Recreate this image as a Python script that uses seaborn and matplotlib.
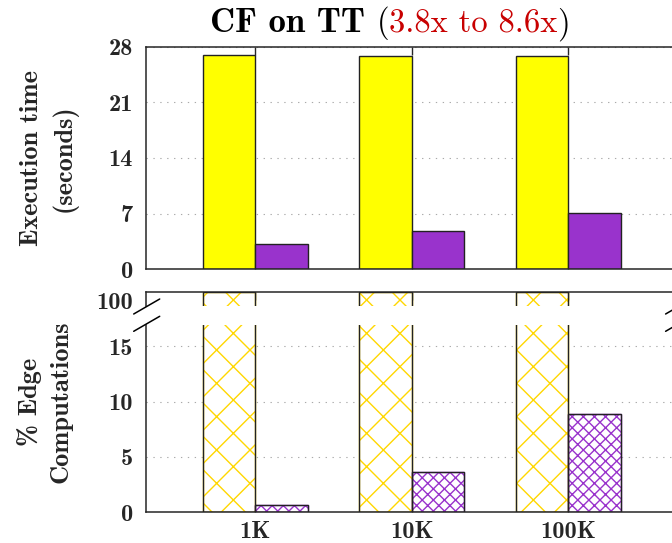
import numpy as np
import pandas as pd
import matplotlib
matplotlib.use("Agg")
import matplotlib.pyplot as plt
from matplotlib.patches import Rectangle
from matplotlib.lines import Line2D
from matplotlib.offsetbox import TextArea, HPacker, AnchoredOffsetbox
import seaborn as sns

# ---- data ----
sizes = ["1K", "10K", "100K"]
systems = ["Baseline", "Optimized"]
baseline_time = [27.0, 26.9, 26.9]
optimized_time = [3.15, 4.83, 7.1]
baseline_edges = [100, 100, 100]
optimized_edges = [0.65, 3.64, 8.86]
time_ticks = [0, 7, 14, 21, 28]
edge_ticks = [0, 5, 10, 15]
edge_top_tick = [100]
title_main = "CF on TT"
title_range = "3.8x to 8.6x"

df = pd.DataFrame({
    "size": sizes * 2,
    "system": [systems[0]] * len(sizes) + [systems[1]] * len(sizes),
    "time": baseline_time + optimized_time,
    "edges": baseline_edges + optimized_edges,
})

# ---- style ----
sns.set_style("white")
plt.rcParams["font.family"] = ["cmb10", "DejaVu Serif"]
plt.rcParams["hatch.linewidth"] = 1.0
plt.rcParams["axes.linewidth"] = 1.1

YELLOW = "#ffff00"
PURPLE = "#9933cc"
HATCH_YELLOW = "#ffd700"
HATCH_PURPLE = "#9933cc"
OUTLINE = "#222222"
TICK_SIZE = 17.5
LABEL_SIZE = 19

W, H = 672, 543
fig = plt.figure(figsize=(W / 100, H / 100), dpi=100)


def axes_px(left, top, right, bottom):
    return fig.add_axes([left / W, 1 - bottom / H, (right - left) / W, (bottom - top) / H])


X_LEFT, X_RIGHT = 145.7, 677.6
ax_t = axes_px(X_LEFT, 47, X_RIGHT, 269)
ax_h = axes_px(X_LEFT, 291.7, X_RIGHT, 306)
ax_l = axes_px(X_LEFT, 325, X_RIGHT, 512.3)

grid_kw = dict(linestyle=(0, (1.2, 5)), color="#aaaaaa", linewidth=0.8)
XLIM = (-0.70, 2.70)
BAR_W = 0.672

# ---- execution time panel ----
sns.barplot(data=df, x="size", y="time", hue="system", palette=[YELLOW, PURPLE],
            width=BAR_W, saturation=1, edgecolor=OUTLINE, linewidth=1.0,
            errorbar=None, legend=False, ax=ax_t)
ax_t.set_xlim(*XLIM)
ax_t.set_ylim(0, 28)
ax_t.set_yticks(time_ticks)
ax_t.yaxis.grid(True, **grid_kw)
ax_t.set_axisbelow(True)
ax_t.set_xlabel("")
ax_t.set_ylabel("")
ax_t.tick_params(axis="y", direction="in", length=7, width=1, labelsize=TICK_SIZE, pad=9)
ax_t.tick_params(axis="x", direction="in", length=6, width=1, top=True, bottom=True,
                 labelbottom=False)

# ---- edge computation panels (broken axis) ----
for ax in (ax_h, ax_l):
    sns.barplot(data=df, x="size", y="edges", hue="system", palette=["white", "white"],
                width=BAR_W, saturation=1, linewidth=1.0, errorbar=None,
                legend=False, ax=ax)
    for cont, hatch, hcol in zip(ax.containers, ["x", "xxx"], [HATCH_YELLOW, HATCH_PURPLE]):
        for p in cont.patches:
            p.set_hatch(hatch)
            p.set_edgecolor(hcol)
            p.set_facecolor("white")
            ax.add_patch(Rectangle(p.get_xy(), p.get_width(), p.get_height(), fill=False,
                                   edgecolor=OUTLINE, linewidth=1.0, zorder=p.get_zorder() + 0.1))
    ax.set_xlim(*XLIM)
    ax.set_xlabel("")
    ax.set_ylabel("")

ax_h.set_ylim(96, 100)
ax_h.set_yticks(edge_top_tick, labels=[str(v) for v in edge_top_tick], va="top")
ax_h.spines["bottom"].set_visible(False)
ax_h.tick_params(axis="y", direction="in", length=0, labelsize=TICK_SIZE, pad=9)
ax_h.tick_params(axis="x", direction="in", length=6, width=1, top=True, bottom=False,
                 labelbottom=False)

ax_l.set_ylim(0, 16.93)
ax_l.set_yticks(edge_ticks)
ax_l.yaxis.grid(True, **grid_kw)
ax_l.set_axisbelow(True)
ax_l.spines["top"].set_visible(False)
ax_l.tick_params(axis="y", direction="in", length=7, width=1, labelsize=TICK_SIZE, pad=9)
ax_l.tick_params(axis="x", direction="in", length=6, width=1, top=False, bottom=True,
                 labelsize=TICK_SIZE, pad=6)

# break marks on both sides of the gap
for xc in (X_LEFT + 1, X_RIGHT + 1):
    for yc in (306.5, 323.8):
        fig.add_artist(Line2D([(xc - 13) / W, (xc + 13) / W],
                              [1 - (yc + 7.5) / H, 1 - (yc - 7.5) / H],
                              color="black", linewidth=1.1))

# ---- axis titles ----
fig.text(49 / W, 1 - 158 / H, "Execution time\n(seconds)", rotation=90, ha="center",
         va="center", multialignment="center", fontsize=LABEL_SIZE, linespacing=1.4)
fig.text(45 / W, 1 - 402 / H, "% Edge\nComputations", rotation=90, ha="center",
         va="center", multialignment="center", fontsize=LABEL_SIZE, linespacing=1.4)

# ---- title with coloured speed-up range ----
TS_BOLD, TS_REG = 25, 23.5
parts = [
    TextArea(title_main + " ", textprops=dict(family=["cmb10", "DejaVu Serif"], size=TS_BOLD, color="black")),
    TextArea("(", textprops=dict(family=["cmr10", "DejaVu Serif"], size=TS_REG, color="black")),
    TextArea(title_range, textprops=dict(family=["cmr10", "DejaVu Serif"], size=TS_REG, color="#c80000")),
    TextArea(")", textprops=dict(family=["cmr10", "DejaVu Serif"], size=TS_REG, color="black")),
]
packed = HPacker(children=parts, align="baseline", pad=0, sep=0)
title_box = AnchoredOffsetbox(loc="center", child=packed, pad=0, borderpad=0, frameon=False,
                              bbox_to_anchor=(390 / W, 1 - 24 / H),
                              bbox_transform=fig.transFigure)
fig.add_artist(title_box)

fig.savefig("out.png", dpi=100)
